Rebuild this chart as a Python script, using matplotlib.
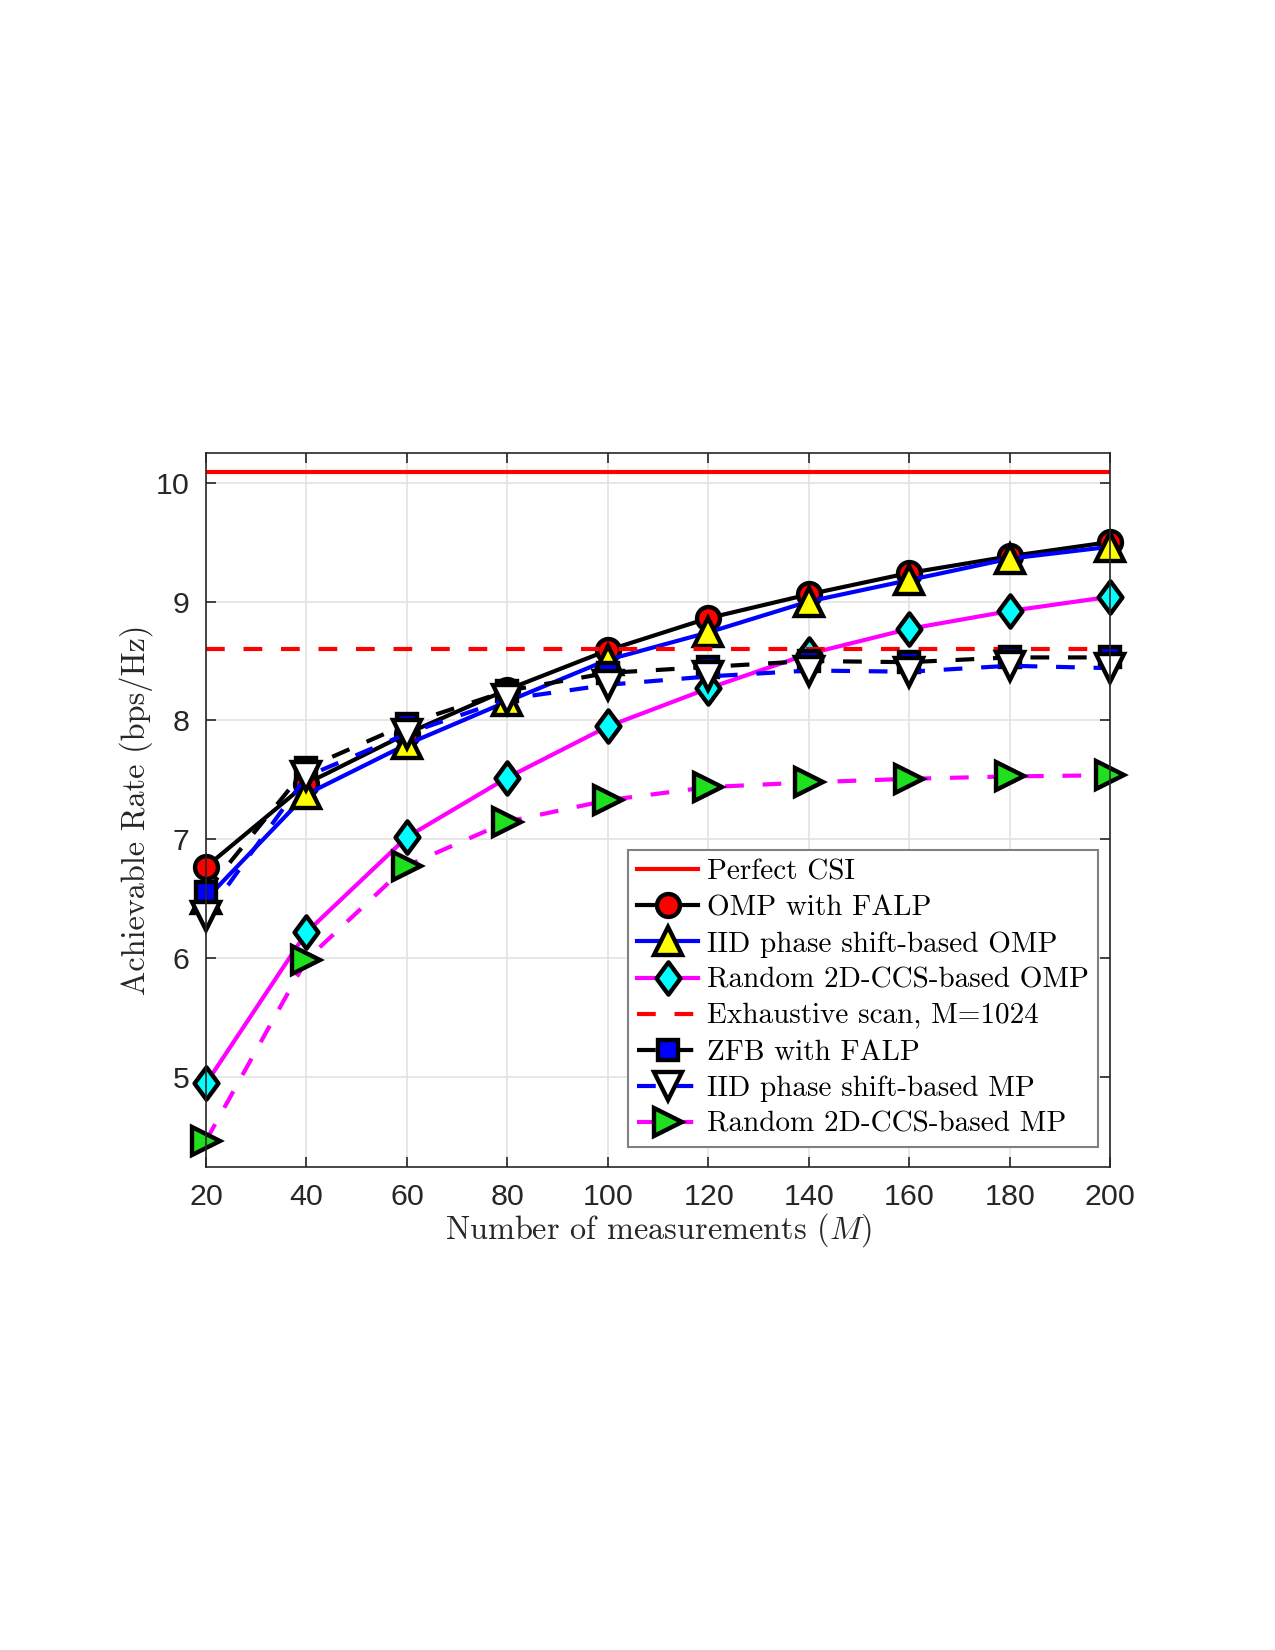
import matplotlib
matplotlib.use("Agg")
import matplotlib.pyplot as plt
from matplotlib.path import Path
import numpy as np

# ---- data ----
M = [20, 40, 60, 80, 100, 120, 140, 160, 180, 200]
perfect_csi = 10.09
exhaustive = 8.60
omp_falp = [6.77, 7.47, 7.89, 8.26, 8.59, 8.86, 9.06, 9.24, 9.38, 9.50]
iid_omp = [6.50, 7.38, 7.80, 8.16, 8.51, 8.74, 9.00, 9.18, 9.36, 9.46]
rand_omp = [4.95, 6.22, 7.02, 7.52, 7.95, 8.27, 8.56, 8.77, 8.92, 9.04]
zfb_falp = [6.56, 7.60, 7.97, 8.25, 8.40, 8.45, 8.50, 8.49, 8.53, 8.53]
iid_mp = [6.36, 7.53, 7.89, 8.18, 8.30, 8.37, 8.42, 8.41, 8.46, 8.44]
rand_mp = [4.47, 5.99, 6.78, 7.15, 7.33, 7.44, 7.48, 7.51, 7.53, 7.54]

labels = ["Perfect CSI", "OMP with FALP", "IID phase shift-based OMP",
          "Random 2D-CCS-based OMP", "Exhaustive scan, M=1024",
          "ZFB with FALP", "IID phase shift-based MP", "Random 2D-CCS-based MP"]
xticks = [20, 40, 60, 80, 100, 120, 140, 160, 180, 200]
yticks = [5, 6, 7, 8, 9, 10]

plt.rcParams['mathtext.fontset'] = 'cm'
plt.rcParams['axes.formatter.use_mathtext'] = True

fig = plt.figure(figsize=(8.5, 11), dpi=150)
ax = fig.add_axes([0.1616, 0.2929, 0.8706 - 0.1616, 0.7256 - 0.2929])

lw = 2.0
mew = 2.1
dash = (4.5, 4.5)

diamond = Path([(0, 1), (0.74, 0), (0, -1), (-0.74, 0), (0, 1)],
               [Path.MOVETO, Path.LINETO, Path.LINETO, Path.LINETO, Path.CLOSEPOLY])

common = dict(clip_on=False, mec='k', mew=mew)
ax.plot([M[0], M[-1]], [perfect_csi] * 2, color='#ff0000', lw=lw, label=labels[0])
ax.plot(M, omp_falp, '-', color='k', lw=lw, marker='o', ms=11, mfc='#ff0000',
        label=labels[1], **common)
ax.plot(M, iid_omp, '-', color='#0000ff', lw=lw, marker='^', ms=13, mfc='#ffff00',
        label=labels[2], **common)
ax.plot(M, rand_omp, '-', color='#ff00ff', lw=lw, marker=diamond, ms=15.5, mfc='#00ffff',
        label=labels[3], **common)
ax.plot([M[0], M[-1]], [exhaustive] * 2, color='#ff0000', lw=lw, dashes=dash,
        label=labels[4])
ax.plot(M, zfb_falp, color='k', lw=lw, dashes=dash, marker='s', ms=9.5,
        mfc='#0000ff', label=labels[5], **common)
ax.plot(M, iid_mp, color='#0000ff', lw=lw, dashes=dash, marker='v', ms=13,
        mfc='white', label=labels[6], **common)
ax.plot(M, rand_mp, color='#ff00ff', lw=lw, dashes=dash, marker='>', ms=13,
        mfc='#1ee01e', label=labels[7], **common)

ax.set_xlim(20, 200)
ax.set_ylim(4.25, 10.25)
ax.set_xticks(xticks)
ax.set_yticks(yticks)
for lab in ax.get_xticklabels() + ax.get_yticklabels():
    lab.set_fontfamily('Liberation Sans')
    lab.set_fontsize(14.5)
    lab.set_color('#262626')
ax.tick_params(direction='in', length=5, width=0.8, top=True, right=True,
               color='#262626', pad=8)
for s in ax.spines.values():
    s.set_color('#262626')
    s.set_linewidth(0.8)
ax.grid(True, color='#e3e3e3', lw=0.8)
ax.set_axisbelow(True)

ax.set_xlabel(r"Number of measurements ($M$)", fontfamily='cmr10', fontsize=15.5,
              labelpad=0, color='#262626')
ax.set_ylabel(r"Achievable Rate (bps/Hz)", fontfamily='cmr10', fontsize=15.5,
              labelpad=1, color='#262626')

leg = ax.legend(loc='lower right', bbox_to_anchor=(0.9864, 0.028), borderaxespad=0,
                prop={'family': 'cmr10', 'size': 14}, handlelength=2.1,
                handletextpad=0.3, labelspacing=0.33, fancybox=False,
                framealpha=1, edgecolor='#808080', borderpad=0.3)
leg.get_frame().set_linewidth(1.0)

fig.savefig('out.png', dpi=150)
